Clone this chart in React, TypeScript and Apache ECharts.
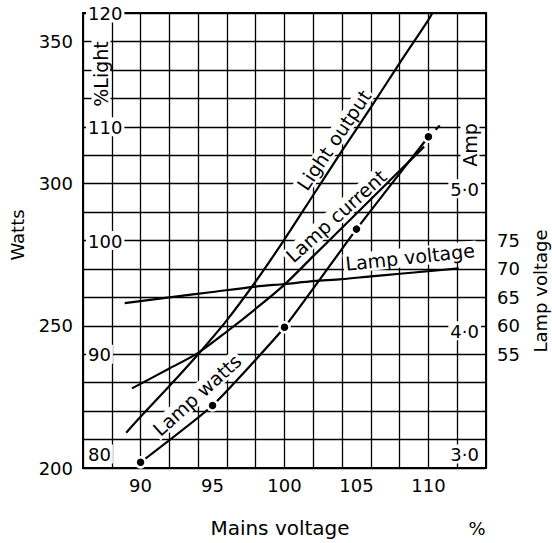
import React, { useEffect, useRef } from 'react';
import * as echarts from 'echarts';

const FONT = 'DejaVu Sans';

// Tick labels
const xTickLabels = [90, 95, 100, 105, 110];
const wattsTickLabels = [200, 250, 300, 350];
const lightTickLabels = [80, 90, 100, 110, 120];
const ampTickLabels = [3, 4, 5];
const lampVoltTickLabels = [55, 60, 65, 70, 75];

// Light output (% light) vs mains voltage (%)
const lightX = [89, 90, 92, 94, 96, 98, 100, 102, 104, 106, 108, 110, 110.27];
const lightY = [83.1, 84.5, 87.2, 90.0, 93.0, 96.4, 100.1, 104.0, 107.9, 111.7, 115.6, 119.4, 120];

// Lamp current (A)
const currentX = [89.4, 92, 94, 96, 98, 100, 102, 104, 106, 108, 109.7];
const currentY = [3.56, 3.7, 3.81, 3.96, 4.12, 4.29, 4.49, 4.69, 4.89, 5.09, 5.26];

// Lamp voltage (V)
const voltX = [88.9, 92, 95, 98, 100, 102, 104, 106, 108, 110, 112.1];
const voltY = [64.0, 65.0, 65.95, 66.9, 67.35, 67.85, 68.2, 68.7, 69.15, 69.6, 70.1];

// Lamp watts (W), measured points
const wattsX = [90, 95, 100, 105, 110];
const wattsY = [202, 222, 249.5, 284, 316.5];
// dashed extension beyond last measured point
const wattsExtX = [110, 110.9];
const wattsExtY = [316.5, 321];

const zip = (xs: number[], ys: number[]) => xs.map((x, i) => [x, ys[i]]);

export default function App() {
  const ref = useRef<HTMLDivElement>(null);
  useEffect(() => {
    const chart = echarts.init(ref.current!, null, { renderer: 'svg' });
    const lineStyle = { color: '#000', width: 2.2 };
    const curveLabel = (text: string, x: number, y: number, deg: number) => ({
      type: 'text', x, y, rotation: (deg * Math.PI) / 180, z: 1,
      style: {
        text, fontSize: 19, fontFamily: FONT, fill: '#000', align: 'center', verticalAlign: 'middle',
        backgroundColor: '#fff', padding: [0, 2],
      },
    });
    const option: any = {
      animation: false,
      backgroundColor: '#fff',
      textStyle: { fontFamily: FONT, color: '#000' },
      grid: {
        left: 83, right: 66, top: 13, bottom: 75,
        show: true, borderColor: '#000', borderWidth: 2, backgroundColor: 'transparent',
      },
      xAxis: [
        {
          type: 'value', min: 86, max: 114, interval: 2, position: 'bottom',
          axisLine: { show: true, onZero: false, lineStyle: { color: '#000', width: 2 } },
          axisTick: { show: false },
          axisLabel: { show: false },
          splitLine: { show: true, lineStyle: { color: '#000', width: 1.3 } },
        },
        {
          type: 'value', min: 86, max: 114, interval: 1, position: 'bottom',
          axisLine: { show: false, onZero: false },
          axisTick: { show: false },
          splitLine: { show: false },
          axisLabel: {
            show: true, interval: 0, margin: 8, fontSize: 18, fontFamily: FONT, color: '#000',
            formatter: (v: number) => (xTickLabels.includes(v) ? String(v) : ''),
          },
        },
      ],
      yAxis: [
        {
          type: 'value', min: 200, max: 360, interval: 10, position: 'left',
          axisLine: { show: true, onZero: false, lineStyle: { color: '#000', width: 2 } },
          axisTick: { show: false },
          splitLine: { show: true, lineStyle: { color: '#000', width: 1.3 } },
          axisLabel: {
            show: true, margin: 10, fontSize: 18, fontFamily: FONT, color: '#000',
            formatter: (v: number) => (wattsTickLabels.includes(v) ? String(v) : ''),
          },
        },
        {
          type: 'value', min: 80, max: 120, interval: 10, position: 'left', z: 5,
          axisLine: { show: false, onZero: false },
          axisTick: { show: false },
          splitLine: { show: false },
          axisLabel: {
            show: true, inside: true, margin: 3, color: '#000',
            formatter: (v: number) => {
              if (!lightTickLabels.includes(v)) return '';
              if (v === 80) return `{a|${v}}\n{s| }`;
              return `{a|${v}}`;
            },
            rich: {
              a: { fontSize: 18, fontFamily: FONT, color: '#000', backgroundColor: '#fff', padding: [1, 2, 0, 2] },
              s: { fontSize: 8, lineHeight: 28 },
            },
          },
        },
        {
          type: 'value', min: 3, max: 6.2, interval: 1, position: 'right', z: 5,
          axisLine: { show: false, onZero: false },
          axisTick: { show: false },
          splitLine: { show: false },
          axisLabel: {
            show: true, inside: true, margin: 5, color: '#000',
            formatter: (v: number) => {
              if (!ampTickLabels.includes(v)) return '';
              const t = v.toFixed(1).replace('.', '·');
              if (v === 3) return `{a|${t}}\n{s| }`;
              return `{s2| }\n{a|${t}}`;
            },
            rich: {
              a: { fontSize: 18, fontFamily: FONT, color: '#000', backgroundColor: '#fff', padding: [1, 2, 0, 2] },
              s: { fontSize: 8, lineHeight: 28 },
              s2: { fontSize: 8, lineHeight: 10 },
            },
          },
        },
        {
          type: 'value', min: 35, max: 115, interval: 5, position: 'right',
          axisLine: { show: false, onZero: false },
          axisTick: { show: false },
          splitLine: { show: false },
          axisLabel: {
            show: true, margin: 11, fontSize: 18, fontFamily: FONT, color: '#000',
            formatter: (v: number) => (lampVoltTickLabels.includes(v) ? String(v) : ''),
          },
        },
      ],
      series: [
        {
          name: 'Light output', type: 'line', xAxisIndex: 0, yAxisIndex: 1,
          data: zip(lightX, lightY), symbol: 'none', smooth: 0.3, lineStyle,
        },
        {
          name: 'Lamp current', type: 'line', xAxisIndex: 0, yAxisIndex: 2,
          data: zip(currentX, currentY), symbol: 'none', smooth: 0.3, lineStyle,
        },
        {
          name: 'Lamp voltage', type: 'line', xAxisIndex: 0, yAxisIndex: 3,
          data: zip(voltX, voltY), symbol: 'none', smooth: 0.3, lineStyle,
        },
        {
          name: 'Lamp watts', type: 'line', xAxisIndex: 0, yAxisIndex: 0, z: 4,
          data: zip(wattsX, wattsY), symbol: 'circle', symbolSize: 10, smooth: 0.15,
          lineStyle,
          itemStyle: { color: '#000', borderColor: '#fff', borderWidth: 2.5 },
        },
        {
          name: 'Lamp watts ext', type: 'line', xAxisIndex: 0, yAxisIndex: 0,
          data: zip(wattsExtX, wattsExtY), symbol: 'none',
          lineStyle: { color: '#000', width: 2.2, type: [6, 4] },
        },
      ],
      graphic: [
        { type: 'text', x: 17, y: 235, rotation: Math.PI / 2, z: 1,
          style: { text: 'Watts', fontSize: 18, fontFamily: FONT, fill: '#000', align: 'center', verticalAlign: 'middle' } },
        { type: 'text', x: 101, y: 74, rotation: Math.PI / 2, z: 1,
          style: { text: '%Light', fontSize: 19, fontFamily: FONT, fill: '#000', align: 'center', verticalAlign: 'middle', backgroundColor: '#fff', padding: [0, 2] } },
        { type: 'text', x: 470, y: 145, rotation: Math.PI / 2, z: 1,
          style: { text: 'Amp', fontSize: 19, fontFamily: FONT, fill: '#000', align: 'center', verticalAlign: 'middle', backgroundColor: '#fff', padding: [0, 2] } },
        { type: 'text', x: 540, y: 291, rotation: Math.PI / 2, z: 1,
          style: { text: 'Lamp voltage', fontSize: 18, fontFamily: FONT, fill: '#000', align: 'center', verticalAlign: 'middle' } },
        { type: 'text', x: 280, y: 528, z: 1,
          style: { text: 'Mains voltage', fontSize: 20, fontFamily: FONT, fill: '#000', align: 'center', verticalAlign: 'middle' } },
        { type: 'text', x: 477, y: 528, z: 1,
          style: { text: '%', fontSize: 18, fontFamily: FONT, fill: '#000', align: 'center', verticalAlign: 'middle' } },
        curveLabel('Light output', 334, 140, 56),
        curveLabel('Lamp current', 336, 216, 42),
        curveLabel('Lamp voltage', 410, 257, 6),
        curveLabel('Lamp watts', 197, 395, 42),
      ],
    };
    chart.setOption(option);
    return () => chart.dispose();
  }, []);
  return (
    <div
      ref={ref}
      style={{ position: 'absolute', left: 0, top: 0, width: 552, height: 543, background: '#fff' }}
    />
  );
}
